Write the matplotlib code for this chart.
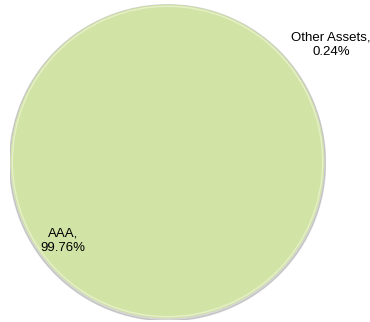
import matplotlib
matplotlib.use("Agg")
import matplotlib.pyplot as plt
from matplotlib.patches import Circle

categories = ["Other Assets", "AAA"]
values = [0.24, 99.76]
label_texts = ["Other Assets,\n0.24%", "AAA,\n99.76%"]

W, H = 370, 322
fig = plt.figure(figsize=(W / 100, H / 100), dpi=100)
cx, cy, r = 167.5, H - 161.5, 158
ax = fig.add_axes([(cx - r) / W, (cy - r) / H, 2 * r / W, 2 * r / H])
ax.axis("off")

# soft shadow
ax.add_patch(Circle((0.0, -0.008), 1.0, color="#8a8a8a", alpha=0.35, zorder=0))
wedges, _ = ax.pie(values, colors=["#d1e3a5", "#d1e3a5"], startangle=90,
                   counterclock=False, radius=0.99,
                   wedgeprops=dict(linewidth=0.6, edgecolor="#d1e3a5"))
for w in wedges:
    w.set_zorder(1)
ax.add_patch(Circle((0, 0), 0.982, fill=False, edgecolor="#e6f0c8", linewidth=1.0, zorder=2))
ax.set_aspect("equal")
ax.set_xlim(-1.0, 1.0)
ax.set_ylim(-1.0, 1.0)

font = ["Liberation Sans", "DejaVu Sans"]
fig.text(331 / W, 1 - 45 / H, label_texts[0], ha="center", va="center",
         fontsize=9.5, family=font, linespacing=1.25)
fig.text(63 / W, 1 - 241 / H, label_texts[1], ha="center", va="center",
         fontsize=9.5, family=font, linespacing=1.25)

fig.savefig("out.png", dpi=100)
